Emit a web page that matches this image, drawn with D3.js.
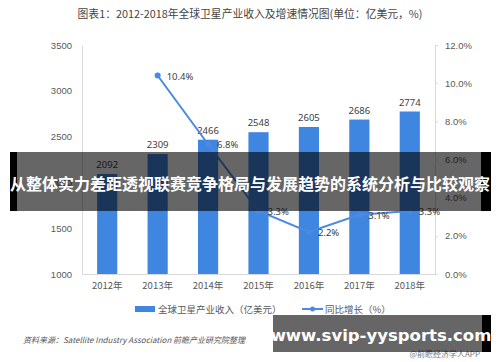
<!DOCTYPE html>
<html>
<head>
<meta charset="utf-8">
<script src="https://cdn.jsdelivr.net/npm/d3@7"></script>
<style>
  body { margin: 0; background: #fff; }
  svg { display: block; font-family: "Noto Sans", "Noto Sans CJK SC", sans-serif; }
</style>
</head>
<body>
<svg width="500" height="362"></svg>
<script>
const years = ['2012年', '2013年', '2014年', '2015年', '2016年', '2017年', '2018年'];
const revenue = [2092, 2309, 2466, 2548, 2605, 2686, 2774];
const growth = [null, 10.4, 6.8, 3.3, 2.2, 3.1, 3.3];
const leftTicks = [1000, 1500, 2000, 2500, 3000, 3500];
const rightTicks = [0, 2, 4, 6, 8, 10, 12];

const svg = d3.select('svg');
const blue = '#3f86e0';
const grey = '#595959';

const x = d3.scaleBand().domain(years).range([82, 435]).paddingInner(0.6).paddingOuter(0.3);
const yL = d3.scaleLinear().domain([1000, 3500]).range([274, 45]);
const yR = d3.scaleLinear().domain([0, 12]).range([274, 45]);

// title
svg.append('text').attr('x', 250).attr('y', 18).attr('text-anchor', 'middle')
    .style('font-family', '"Noto Sans CJK SC", sans-serif')
    .style('font-size', '10.8px').style('fill', '#444')
    .text('图表1：2012-2018年全球卫星产业收入及增速情况图(单位：亿美元，%)');

// left axis
const axL = svg.append('g').attr('transform', 'translate(82,0)')
    .call(d3.axisLeft(yL).tickValues(leftTicks).tickSize(0).tickPadding(10).tickFormat(d3.format('d')));
axL.select('.domain').attr('stroke', '#d9d9d9');
axL.selectAll('text').style('font-size', '9.5px').style('fill', grey);

// right axis
const axR = svg.append('g').attr('transform', 'translate(435,0)')
    .call(d3.axisRight(yR).tickValues(rightTicks).tickSize(3).tickPadding(7).tickFormat(d => d.toFixed(1) + '%'));
axR.select('.domain').attr('stroke', '#d9d9d9');
axR.selectAll('line').attr('stroke', '#d9d9d9');
axR.selectAll('text').style('font-size', '9.5px').style('fill', grey);

// bottom axis
const axB = svg.append('g').attr('transform', 'translate(0,274)')
    .call(d3.axisBottom(x).tickSize(0).tickPadding(8));
axB.select('.domain').attr('stroke', '#d9d9d9');
axB.selectAll('text').style('font-size', '9.5px').style('fill', grey)
    .style('font-family', '"Noto Sans CJK SC", sans-serif');

// bars
svg.append('g').selectAll('rect').data(revenue).join('rect')
    .attr('x', (d, i) => x(years[i]))
    .attr('y', d => yL(d))
    .attr('width', x.bandwidth())
    .attr('height', d => yL(1000) - yL(d))
    .attr('fill', blue);

svg.append('g').selectAll('text').data(revenue).join('text')
    .attr('x', (d, i) => x(years[i]) + x.bandwidth() / 2)
    .attr('y', d => yL(d) - 6)
    .attr('text-anchor', 'middle')
    .style('font-size', '9.5px').style('fill', '#404040')
    .text(d => d);

// growth line
const pts = growth.map((g, i) => ({ g, year: years[i] })).filter(d => d.g !== null);
const line = d3.line().x(d => x(d.year) + x.bandwidth() / 2).y(d => yR(d.g));
svg.append('path').datum(pts).attr('d', line)
    .attr('fill', 'none').attr('stroke', '#4a8ae2').attr('stroke-width', 2);
svg.append('g').selectAll('circle').data(pts).join('circle')
    .attr('cx', d => x(d.year) + x.bandwidth() / 2)
    .attr('cy', d => yR(d.g))
    .attr('r', 3).attr('fill', '#4a8ae2');
svg.append('g').selectAll('text').data(pts).join('text')
    .attr('x', d => x(d.year) + x.bandwidth() / 2 + 9)
    .attr('y', d => yR(d.g) + 4)
    .style('font-size', '9.5px').style('fill', '#404040')
    .text(d => d.g.toFixed(1) + '%');

// legend
const lg = svg.append('g').style('font-family', '"Noto Sans CJK SC", sans-serif')
    .style('font-size', '9.5px').style('fill', grey);
lg.append('rect').attr('x', 135).attr('y', 306).attr('width', 20).attr('height', 6).attr('fill', blue);
lg.append('text').attr('x', 158).attr('y', 312.5).text('全球卫星产业收入（亿美元）');
lg.append('line').attr('x1', 302).attr('x2', 323).attr('y1', 309).attr('y2', 309)
    .attr('stroke', '#4a8ae2').attr('stroke-width', 2);
lg.append('circle').attr('cx', 312.5).attr('cy', 309).attr('r', 2.5).attr('fill', '#4a8ae2');
lg.append('text').attr('x', 325).attr('y', 312.5).text('同比增长（%）');

// source
svg.append('text').attr('x', 23).attr('y', 343)
    .style('font-family', '"Noto Sans CJK SC", sans-serif')
    .style('font-size', '8px').style('font-style', 'italic').style('fill', '#555')
    .text('资料来源：Satellite Industry Association 前瞻产业研究院整理');
svg.append('text').attr('x', 480).attr('y', 357).attr('text-anchor', 'end')
    .style('font-family', '"Noto Sans CJK SC", sans-serif')
    .style('font-size', '8px').style('fill', '#777')
    .text('@前瞻经济学人APP');

// overlay banners
svg.append('rect').attr('x', 10).attr('y', 152).attr('width', 7).attr('height', 59).attr('fill', '#000');
svg.append('rect').attr('x', 17).attr('y', 152).attr('width', 464).attr('height', 59).attr('fill', 'rgba(0,0,0,0.6)');
svg.append('rect').attr('x', 481).attr('y', 152).attr('width', 10).attr('height', 59).attr('fill', '#000');
svg.append('text').attr('x', 250).attr('y', 190).attr('text-anchor', 'middle')
    .style('font-family', '"Noto Sans CJK SC", sans-serif')
    .style('font-size', '16px').style('font-weight', 'bold').style('fill', '#fff')
    .text('从整体实力差距透视联赛竞争格局与发展趋势的系统分析与比较观察');

svg.append('rect').attr('x', 273).attr('y', 315).attr('width', 209).attr('height', 37).attr('fill', 'rgba(0,0,0,0.6)');
svg.append('rect').attr('x', 482).attr('y', 315).attr('width', 9).attr('height', 37).attr('fill', '#000');
svg.append('text').attr('x', 381).attr('y', 341).attr('text-anchor', 'middle')
    .style('font-family', '"DejaVu Sans", sans-serif')
    .style('font-size', '16.5px').style('font-weight', 'bold').style('fill', '#fff')
    .text('www.svip-yysports.com');
</script>
</body>
</html>
